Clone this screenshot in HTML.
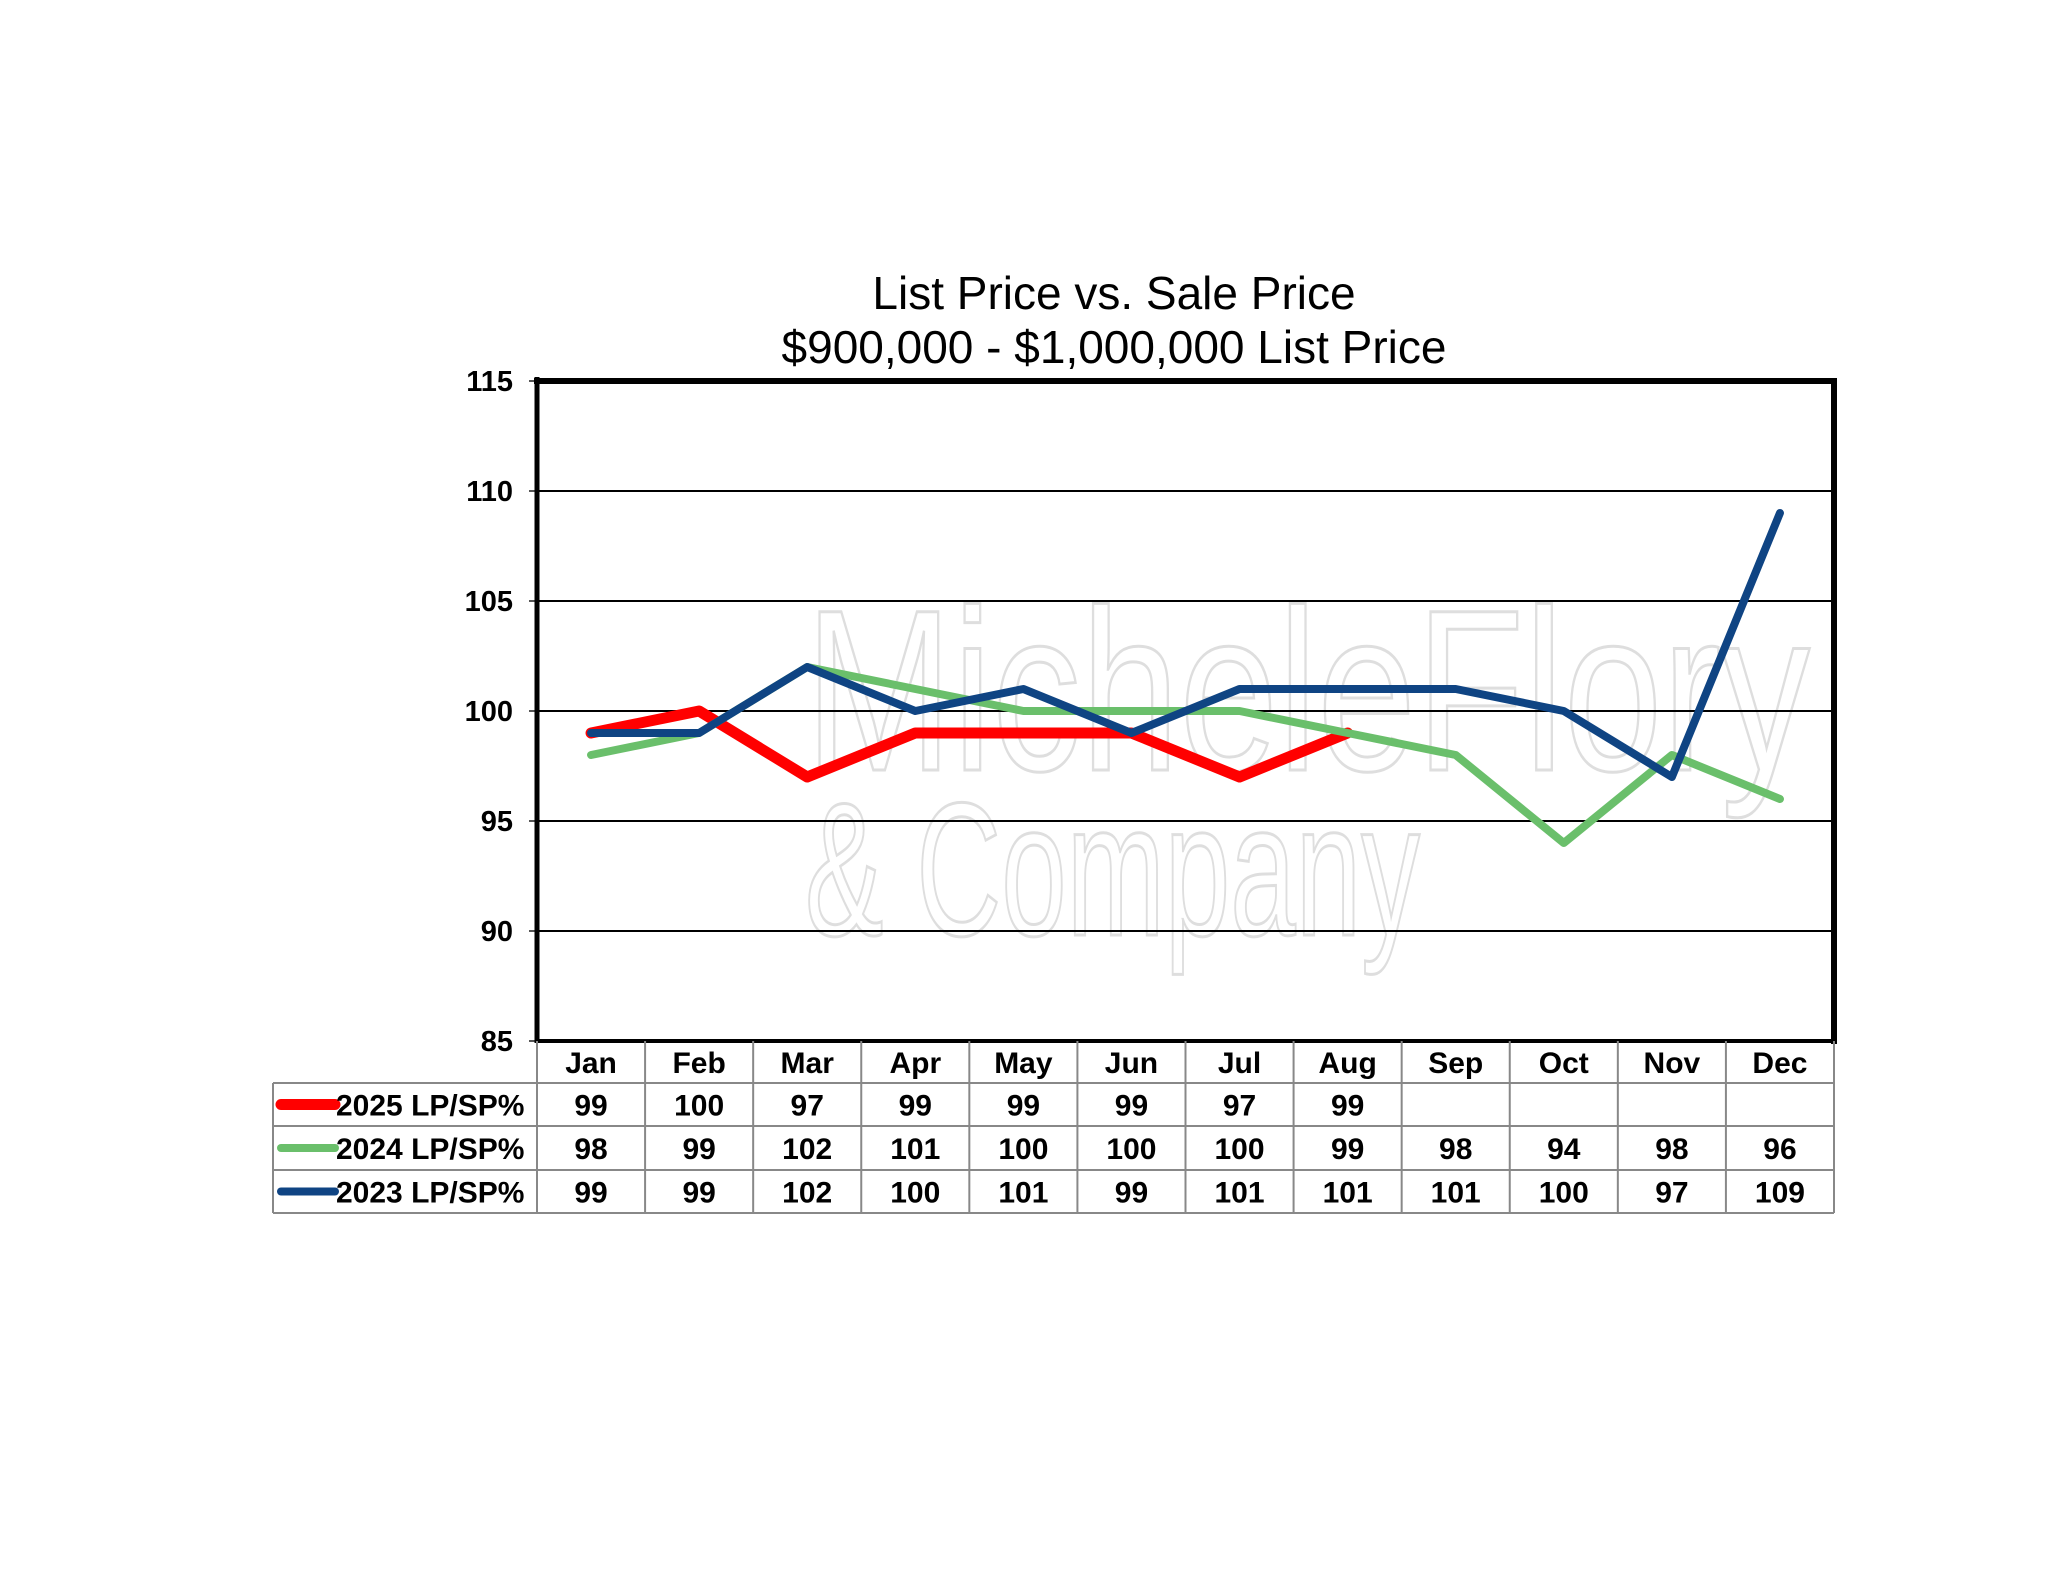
<!DOCTYPE html>
<html><head><meta charset="utf-8"><style>
html,body{margin:0;padding:0;background:#fff;}
svg{display:block;font-family:"Liberation Sans",Arial,sans-serif;}
</style></head><body>
<svg id="chart" width="2048" height="1583" viewBox="0 0 2048 1583" xmlns="http://www.w3.org/2000/svg">
<text x="1114" y="309" font-size="46" text-anchor="middle">List Price vs. Sale Price</text>
<text x="1114" y="363" font-size="46" text-anchor="middle">$900,000 - $1,000,000 List Price</text>
<g fill="none" stroke="#dedede" stroke-width="3" font-size="230">
<text x="805" y="770" textLength="1005" lengthAdjust="spacingAndGlyphs">MicheleFlory</text>
<text x="805" y="935" font-size="190" textLength="615" lengthAdjust="spacingAndGlyphs">&amp; Company</text>
</g>
<g id="grid"></g>
<g id="yaxis"></g>
<g id="series"></g>
<g id="frame"></g>
<g id="table"></g>
</svg>
<script>
const categories=["Jan","Feb","Mar","Apr","May","Jun","Jul","Aug","Sep","Oct","Nov","Dec"];
const s2025=[99,100,97,99,99,99,97,99,null,null,null,null];
const s2024=[98,99,102,101,100,100,100,99,98,94,98,96];
const s2023=[99,99,102,100,101,99,101,101,101,100,97,109];
const yTicks=[85,90,95,100,105,110,115];
const seriesNames=["2025 LP/SP%","2024 LP/SP%","2023 LP/SP%"];
const seriesColors=["#ff0000","#6abf6b","#0f4483"];
const seriesWidths=[11,8,8];

const NS="http://www.w3.org/2000/svg";
const L=537,R=1834,T=381,B=1041,yMin=85,yMax=115;
const colW=(R-L)/categories.length;
const xS=i=>L+colW*(i+0.5);
const yS=v=>B-(v-yMin)/(yMax-yMin)*(B-T);
function mk(tag,attrs,parent,txt){const e=document.createElementNS(NS,tag);for(const k in attrs)e.setAttribute(k,attrs[k]);if(txt!=null)e.textContent=txt;parent.appendChild(e);return e;}
const grid=document.getElementById('grid'),yax=document.getElementById('yaxis'),ser=document.getElementById('series'),frame=document.getElementById('frame'),tbl=document.getElementById('table');
yTicks.forEach(v=>{
 if(v>yMin&&v<yMax){const g=mk('line',{x1:L,x2:R,y1:yS(v),y2:yS(v),stroke:'#000','stroke-width':2},grid);
 
 }
 const tk=mk('line',{x1:L-8,x2:L,y1:yS(v),y2:yS(v),stroke:'#555','stroke-width':2},yax);
 
 
 const t=mk('text',{x:L-24,y:yS(v)+10,'font-size':29,'font-weight':'bold','text-anchor':'end'},yax,v);
 
 
});
[s2025,s2024,s2023].forEach((arr,si)=>{
 let pts=[];arr.forEach((v,i)=>{if(v!=null)pts.push(xS(i)+','+yS(v));});
 const p=mk('polyline',{points:pts.join(' '),fill:'none',stroke:seriesColors[si],'stroke-width':seriesWidths[si],'stroke-linejoin':'round','stroke-linecap':'round'},ser);
 
 
});
let f;
f=mk('line',{x1:L,x2:L,y1:T-4,y2:B+2,stroke:'#000','stroke-width':5},frame);
f=mk('line',{x1:L-3,x2:R+3,y1:T,y2:T,stroke:'#000','stroke-width':6},frame);
f=mk('line',{x1:R,x2:R,y1:T-3,y2:B+3,stroke:'#000','stroke-width':6},frame);
f=mk('line',{x1:L,x2:R,y1:B,y2:B,stroke:'#000','stroke-width':4},frame);
const rows=[1041,1083,1126,1170,1213],legL=273;
const gc='#888';
mk('line',{x1:L,x2:R,y1:rows[1],y2:rows[1],stroke:gc,'stroke-width':2},tbl);
for(let r=1;r<rows.length;r++)mk('line',{x1:legL,x2:R,y1:rows[r],y2:rows[r],stroke:gc,'stroke-width':2},tbl);
mk('line',{x1:legL,x2:legL,y1:rows[1],y2:rows[4],stroke:gc,'stroke-width':2},tbl);
for(let c=0;c<=categories.length;c++){const x=L+colW*c;mk('line',{x1:x,x2:x,y1:B,y2:rows[4],stroke:gc,'stroke-width':2},tbl);}
categories.forEach((c,i)=>{const t=mk('text',{x:xS(i),y:B+32,'font-size':30,'font-weight':'bold','text-anchor':'middle'},tbl,c);
 
 });
[s2025,s2024,s2023].forEach((arr,si)=>{
 const cy=(rows[si+1]+rows[si+2])/2;
 const k=mk('line',{x1:legL+8,x2:legL+62,y1:cy,y2:cy,stroke:seriesColors[si],'stroke-width':si==0?11:8,'stroke-linecap':'round'},tbl);
 
 
 const n=mk('text',{x:legL+63,y:cy+11,'font-size':30,'font-weight':'bold'},tbl,seriesNames[si]);
 
 
 arr.forEach((v,i)=>{if(v==null)return;const t=mk('text',{x:xS(i),y:cy+11,'font-size':30,'font-weight':'bold','text-anchor':'middle'},tbl,v);
 
 });
});
</script>
</body></html>
